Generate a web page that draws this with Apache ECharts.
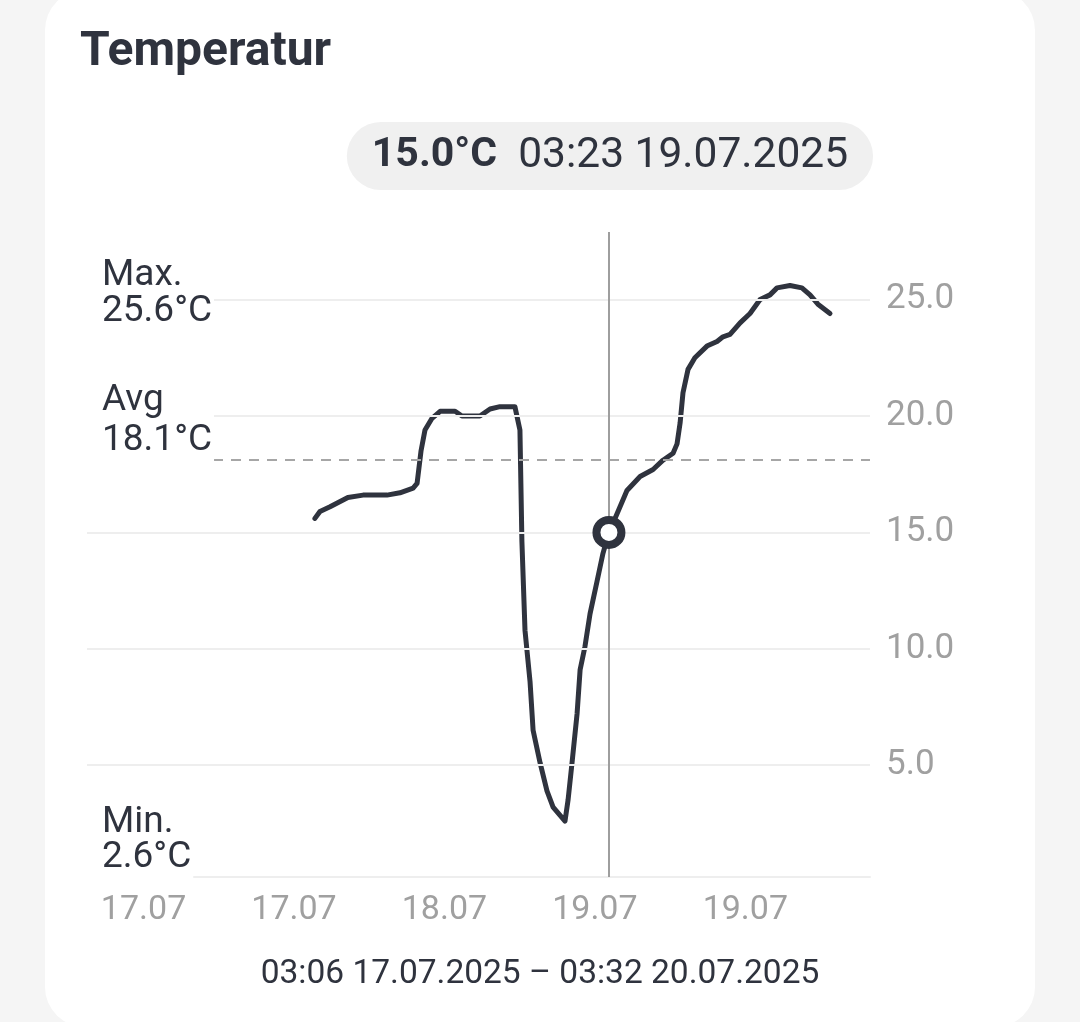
<!DOCTYPE html>
<html>
<head>
<meta charset="utf-8">
<script src="https://cdn.jsdelivr.net/npm/echarts@6/dist/echarts.min.js"></script>
<style>
  html, body { margin: 0; padding: 0; width: 1080px; height: 1022px; overflow: hidden; background: #f5f5f5; }
  #card { position: absolute; left: 45px; top: -10px; width: 990px; height: 1037px; border-radius: 40px; background: #ffffff; }
  #chart { position: absolute; left: 0; top: 0; width: 1080px; height: 1022px; }
</style>
</head>
<body>
<div id="card"></div>
<div id="chart"></div>
<script>
// ---- Data ----
const TITLE = 'Temperatur';
const RANGE_START = '2025-07-17 03:06';
const RANGE_END = '2025-07-20 03:32';

const TIMES = [
  '2025-07-18 00:11','2025-07-18 00:39','2025-07-18 01:35','2025-07-18 03:14','2025-07-18 04:38',
  '2025-07-18 06:51','2025-07-18 08:03','2025-07-18 09:16','2025-07-18 09:38','2025-07-18 10:00',
  '2025-07-18 10:22','2025-07-18 11:01','2025-07-18 11:46','2025-07-18 13:09','2025-07-18 13:47',
  '2025-07-18 15:27','2025-07-18 16:23','2025-07-18 17:18','2025-07-18 18:41','2025-07-18 19:09',
  '2025-07-18 19:20','2025-07-18 19:37','2025-07-18 20:05','2025-07-18 20:22','2025-07-18 21:01',
  '2025-07-18 21:39','2025-07-18 22:13','2025-07-18 23:19','2025-07-18 23:36','2025-07-18 23:58',
  '2025-07-19 00:26','2025-07-19 00:43','2025-07-19 01:10','2025-07-19 01:38','2025-07-19 02:17',
  '2025-07-19 02:50','2025-07-19 03:23','2025-07-19 04:08','2025-07-19 05:03','2025-07-19 06:16',
  '2025-07-19 07:28','2025-07-19 08:23','2025-07-19 09:19','2025-07-19 09:41','2025-07-19 09:58',
  '2025-07-19 10:14','2025-07-19 10:42','2025-07-19 11:20','2025-07-19 12:27','2025-07-19 13:23',
  '2025-07-19 13:56','2025-07-19 14:35','2025-07-19 15:31','2025-07-19 16:26','2025-07-19 17:22',
  '2025-07-19 18:17','2025-07-19 18:56','2025-07-19 20:08','2025-07-19 21:14','2025-07-19 21:59',
  '2025-07-19 22:43','2025-07-19 23:50'
];
const TEMPS = [
  15.6, 15.9, 16.1, 16.5, 16.6,
  16.6, 16.7, 16.9, 17.1, 18.5,
  19.4, 19.9, 20.2, 20.2, 20.0,
  20.0, 20.3, 20.4, 20.4, 19.4,
  14.6, 10.8, 8.6, 6.5, 5.1,
  3.9, 3.2, 2.6, 3.5, 5.1,
  7.2, 9.1, 10.1, 11.5, 12.9,
  14.1, 15.0, 15.8, 16.8, 17.4,
  17.7, 18.1, 18.4, 18.8, 19.7,
  21.0, 22.0, 22.5, 23.0, 23.2,
  23.4, 23.5, 24.0, 24.4, 25.0,
  25.2, 25.5, 25.6, 25.5, 25.2,
  24.8, 24.4
];
const STAT_MAX = 25.6;
const STAT_AVG = 18.1;
const STAT_MIN = 2.6;
const CURSOR_TIME = '2025-07-19 03:23';
const CURSOR_VALUE = 15.0;
const Y_TICKS = [5, 10, 15, 20, 25];
const X_TICKS = ['2025-07-17 08:20','2025-07-17 22:15','2025-07-18 12:10','2025-07-19 02:05','2025-07-19 16:00'];

// ---- helpers ----
function ts(s) {
  const m = s.match(/(\d+)-(\d+)-(\d+) (\d+):(\d+)/);
  return new Date(+m[1], +m[2] - 1, +m[3], +m[4], +m[5]).getTime();
}
function pad(n) { return (n < 10 ? '0' : '') + n; }
function fmtDay(v) { const d = new Date(v); return pad(d.getDate()) + '.' + pad(d.getMonth() + 1); }
function fmtFull(v) { const d = new Date(v); return pad(d.getHours()) + ':' + pad(d.getMinutes()) + ' ' + pad(d.getDate()) + '.' + pad(d.getMonth() + 1) + '.' + d.getFullYear(); }

const DARK = '#2f333e';
const GRAY = '#a0a0a0';
const GRID = '#eeeeee';
const FONT = 'Roboto';

const seriesData = TIMES.map((t, i) => [ts(t), TEMPS[i]]);

const chart = echarts.init(document.getElementById('chart'), null, { renderer: 'canvas' });

function labelBlock(id, top, text, lh, padBottom) {
  return {
    type: 'text', id: id, z: 100, zlevel: 1,
    style: {
      x: 85, y: top, text: text, fontFamily: FONT, fontSize: 37, lineHeight: lh,
      fill: DARK, align: 'left', verticalAlign: 'top',
      backgroundColor: '#ffffff', padding: [0, 2, padBottom, 17]
    }
  };
}

const option = {
  animation: false,
  textStyle: { fontFamily: FONT },
  grid: { left: 87, right: 210, top: 232, bottom: 145, containLabel: false },
  xAxis: {
    type: 'value',
    min: ts(RANGE_START), max: ts(RANGE_END),
    axisLine: { show: true, lineStyle: { color: GRID, width: 2 } },
    axisTick: { show: false },
    splitLine: { show: false },
    axisLabel: {
      customValues: X_TICKS.map(ts),
      formatter: v => fmtDay(v),
      color: GRAY, fontSize: 34, fontFamily: FONT, margin: 16,
      showMinLabel: true, showMaxLabel: true, hideOverlap: false
    }
  },
  yAxis: {
    type: 'value', position: 'right',
    min: 0.2, max: 27.9,
    axisLine: { show: false }, axisTick: { show: false },
    splitLine: { show: false },
    axisLabel: {
      customValues: Y_TICKS,
      formatter: v => v.toFixed(1),
      color: GRAY, fontSize: 35, fontFamily: FONT, margin: 16
    }
  },
  series: [
    {
      type: 'line', name: 'grid', data: [], z: 1, silent: true,
      markLine: {
        silent: true, symbol: 'none', animation: false,
        label: { show: false },
        lineStyle: { color: GRID, width: 2, type: 'solid' },
        data: Y_TICKS.map(v => ({ yAxis: v }))
      }
    },
    {
      type: 'line', name: 'Temperatur', data: seriesData, z: 3,
      showSymbol: false, smooth: false,
      lineStyle: { color: DARK, width: 5, join: 'round', cap: 'round' },
      markLine: {
        silent: true, symbol: 'none', animation: false,
        label: { show: false },
        data: [
          { yAxis: STAT_AVG, lineStyle: { color: '#a6a6a6', width: 2, type: [10, 8] } },
          { xAxis: ts(CURSOR_TIME), lineStyle: { color: '#9e9e9e', width: 2, type: 'solid' } }
        ]
      }
    },
    {
      type: 'scatter', name: 'cursor', z: 10, silent: true,
      data: [[ts(CURSOR_TIME), CURSOR_VALUE]],
      symbol: 'circle', symbolSize: 25,
      itemStyle: { color: '#ffffff', borderColor: DARK, borderWidth: 8, opacity: 1 }
    }
  ],
  graphic: [
    { type: 'text', id: 'title', z: 100, style: { x: 80, y: 53, text: TITLE, fontFamily: FONT, fontSize: 48, fontWeight: 'bold', fill: DARK, align: 'left', verticalAlign: 'middle' } },
    labelBlock('maxLbl', 258, 'Max.\n' + STAT_MAX.toFixed(1) + '°C', 36, 4),
    labelBlock('avgLbl', 381, 'Avg\n' + STAT_AVG.toFixed(1) + '°C', 40, 7),
    labelBlock('minLbl', 805, 'Min.\n' + STAT_MIN.toFixed(1) + '°C', 35, 8),
    { type: 'text', id: 'range', z: 100, style: { x: 540, y: 975, text: fmtFull(ts(RANGE_START)) + ' – ' + fmtFull(ts(RANGE_END)), fontFamily: FONT, fontSize: 33.5, fill: DARK, align: 'center', verticalAlign: 'middle' } }
  ]
};
chart.setOption(option);

const px = chart.convertToPixel({ xAxisIndex: 0, yAxisIndex: 0 }, [ts(CURSOR_TIME), CURSOR_VALUE]);
chart.setOption({
  graphic: [
    {
      type: 'text', id: 'pill', z: 100,
      style: {
        x: px[0] + 1, y: 156, align: 'center', verticalAlign: 'middle',
        text: '{b|' + CURSOR_VALUE.toFixed(1) + '°C}{n|  ' + fmtFull(ts(CURSOR_TIME)) + '}',
        backgroundColor: '#f0f0f0', borderRadius: 34, padding: [14, 25, 14, 25],
        rich: {
          b: { fontFamily: FONT, fontSize: 41, fontWeight: 'bold', fill: DARK, lineHeight: 40 },
          n: { fontFamily: FONT, fontSize: 42.5, fill: DARK, lineHeight: 40 }
        }
      }
    }
  ]
});
</script>
</body>
</html>
